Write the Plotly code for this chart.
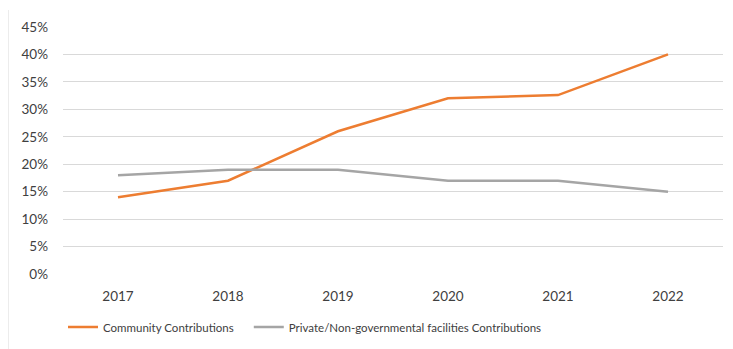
import plotly.graph_objects as go

years = ["2017", "2018", "2019", "2020", "2021", "2022"]
community = [0.14, 0.17, 0.26, 0.32, 0.326, 0.40]
private = [0.18, 0.19, 0.19, 0.17, 0.17, 0.15]
y_ticks = [0, 0.05, 0.10, 0.15, 0.20, 0.25, 0.30, 0.35, 0.40, 0.45]

font_family = "Lato, Carlito, Calibri, sans-serif"
txt = "#404040"

fig = go.Figure()
fig.add_trace(go.Scatter(x=years, y=community, mode="lines", name="Community Contributions",
                         line=dict(color="#ED7D31", width=2.5), legend="legend"))
fig.add_trace(go.Scatter(x=years, y=private, mode="lines",
                         name="Private/Non-governmental facilities Contributions",
                         line=dict(color="#A5A5A5", width=2.5), legend="legend2"))

W, H = 725, 341
L, T, PW, PH = 55, 19, 660, 247

fig.update_layout(
    width=W, height=H,
    margin=dict(l=L, r=W - L - PW, t=T, b=H - T - PH, autoexpand=False),
    paper_bgcolor="white", plot_bgcolor="white",
    font=dict(family=font_family, size=13.5, color=txt),
    showlegend=True,
    legend=dict(orientation="h", x=0.0, xanchor="left", y=-0.2146, yanchor="middle",
                font=dict(size=11.5, color=txt), bgcolor="rgba(0,0,0,0)"),
    legend2=dict(orientation="h", x=0.2815, xanchor="left", y=-0.2146, yanchor="middle",
                 font=dict(size=11.5, color=txt), bgcolor="rgba(0,0,0,0)"),
    xaxis=dict(type="category", range=[-0.5, 5.5], showgrid=False, zeroline=False,
               showline=False, ticks="", ticklabelstandoff=12,
               tickfont=dict(size=13.5, color=txt)),
    yaxis=dict(range=[0, 0.45], tickvals=y_ticks, tickformat=".0%", showgrid=True,
               gridcolor="#D9D9D9", gridwidth=1, zeroline=False, showline=False,
               ticks="", ticklabelstandoff=14, tickfont=dict(size=13.5, color=txt)),
    shapes=[dict(type="line", xref="paper", yref="paper",
                 x0=-55 / PW, x1=-55 / PW, y0=-(H - T - PH + 8) / PH, y1=1 + 17 / PH,
                 line=dict(color="#D9D9D9", width=1))],
)

fig.write_html("out.html")
